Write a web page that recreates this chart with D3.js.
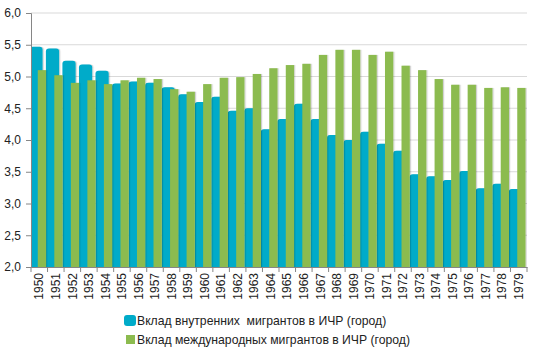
<!DOCTYPE html>
<html>
<head>
<meta charset="utf-8">
<script src="https://cdnjs.cloudflare.com/ajax/libs/d3/7.8.5/d3.min.js"></script>
<style>
  body { margin: 0; background: #fff; }
  svg { display: block; font-family: "Liberation Sans", Arial, sans-serif; }
</style>
</head>
<body>
<div id="chart"></div>
<script>
const years = d3.range(1950, 1980).map(String);

const internal = [5.47, 5.44, 5.25, 5.19, 5.09, 4.89, 4.92, 4.90, 4.83, 4.72,
                  4.60, 4.68, 4.46, 4.50, 4.17, 4.33, 4.57, 4.33, 4.08, 4.00,
                  4.13, 3.94, 3.83, 3.46, 3.43, 3.37, 3.51, 3.24, 3.31, 3.23];

const international = [5.10, 5.02, 4.90, 4.94, 4.88, 4.94, 4.98, 4.96, 4.80, 4.76,
                       4.88, 4.98, 4.99, 5.04, 5.13, 5.18, 5.20, 5.34, 5.42, 5.42,
                       5.34, 5.39, 5.17, 5.10, 4.96, 4.87, 4.87, 4.82, 4.83, 4.82];

const yTicks = [2.0, 2.5, 3.0, 3.5, 4.0, 4.5, 5.0, 5.5, 6.0];

const legendLabels = [
  "Вклад внутренних  мигрантов в ИЧР (город)",
  "Вклад международных мигрантов в ИЧР (город)"
];

const width = 536, height = 354;
const m = { t: 13, r: 9, b: 87, l: 31 };
const blue = "#00abc9", green = "#8cbb4f";

const svg = d3.select("#chart").append("svg")
  .attr("width", width)
  .attr("height", height);

const defs = svg.append("defs");
defs.append("clipPath").attr("id", "plot")
  .append("rect")
  .attr("x", m.l).attr("y", 0)
  .attr("width", width - m.l - m.r).attr("height", height - m.b);

const shadow = defs.append("filter").attr("id", "shade")
  .attr("x", "-20%").attr("y", "-5%").attr("width", "150%").attr("height", "110%");
shadow.append("feDropShadow")
  .attr("dx", 1.2).attr("dy", 0).attr("stdDeviation", 0.7)
  .attr("flood-color", "#000").attr("flood-opacity", 0.2);

const x = d3.scaleBand()
  .domain(years)
  .range([m.l, width - m.r])
  .padding(0);

const y = d3.scaleLinear()
  .domain([2, 6])
  .range([height - m.b, m.t]);

const bw = x.bandwidth();

// gridlines
svg.append("g")
  .selectAll("line")
  .data(yTicks.slice(1))
  .enter()
  .append("line")
  .attr("x1", m.l).attr("x2", width - m.r)
  .attr("y1", d => y(d)).attr("y2", d => y(d))
  .attr("stroke", "#d9d9d9")
  .attr("stroke-width", 1);

const bars = svg.append("g").attr("clip-path", "url(#plot)");

// internal migrants (behind, rounded top)
const r = 3;
bars.append("g")
  .selectAll("path")
  .data(internal)
  .enter()
  .append("path")
  .attr("fill", blue)
  .attr("filter", "url(#shade)")
  .attr("d", (d, i) => {
    const x0 = x(years[i]) - 0.1 * bw, w = 0.8 * bw;
    const y0 = y(d), y1 = y(2);
    return `M${x0},${y1}V${y0 + r}Q${x0},${y0} ${x0 + r},${y0}H${x0 + w - r}Q${x0 + w},${y0} ${x0 + w},${y0 + r}V${y1}Z`;
  });

// international migrants (front)
bars.append("g")
  .selectAll("rect")
  .data(international)
  .enter()
  .append("rect")
  .attr("fill", green)
  .attr("filter", "url(#shade)")
  .attr("x", (d, i) => x(years[i]) + 0.41 * bw)
  .attr("width", 0.5 * bw)
  .attr("y", d => y(d))
  .attr("height", d => y(2) - y(d));

// y axis
const yAxis = svg.append("g")
  .attr("transform", `translate(${m.l},0)`)
  .call(d3.axisLeft(y).tickValues(yTicks).tickSize(5).tickPadding(5)
    .tickFormat(d => d3.format(".1f")(d).replace(".", ",")));
yAxis.select(".domain").attr("stroke", "#868686");
yAxis.selectAll(".tick line").attr("stroke", "#868686");
yAxis.selectAll("text").attr("font-size", "12px").attr("fill", "#222")
  .attr("font-family", "'Liberation Sans', Arial, sans-serif");

// x axis
const xAxis = svg.append("g")
  .attr("transform", `translate(0,${y(2)})`)
  .call(d3.axisBottom(x).tickSize(0).tickPadding(0));
xAxis.select(".domain").attr("stroke", "#868686");
xAxis.selectAll("text")
  .attr("transform", "rotate(-90)")
  .attr("text-anchor", "end")
  .attr("x", -6)
  .attr("y", 0)
  .attr("dy", "0.35em")
  .attr("font-size", "12px")
  .attr("fill", "#222")
  .attr("font-family", "'Liberation Sans', Arial, sans-serif");

svg.append("g")
  .selectAll("line")
  .data(years.concat(["end"]))
  .enter()
  .append("line")
  .attr("x1", (d, i) => m.l + i * bw)
  .attr("x2", (d, i) => m.l + i * bw)
  .attr("y1", y(2)).attr("y2", y(2) + 5)
  .attr("stroke", "#868686");

// legend
const legend = svg.append("g").attr("transform", "translate(124,315)");
[blue, green].forEach((c, i) => {
  const g = legend.append("g").attr("transform", `translate(0,${i * 19})`);
  g.append("rect")
    .attr("x", i === 0 ? 0 : 2).attr("y", i === 0 ? 0 : 1)
    .attr("width", i === 0 ? 12 : 9).attr("height", i === 0 ? 11 : 9)
    .attr("rx", i === 0 ? 3 : 0)
    .attr("fill", c);
  g.append("text")
    .attr("x", 13).attr("y", 6)
    .attr("dy", "0.35em")
    .attr("font-size", "12.2px")
    .attr("fill", "#222")
    .attr("xml:space", "preserve")
    .style("white-space", "pre")
    .text(legendLabels[i]);
});
</script>
</body>
</html>
